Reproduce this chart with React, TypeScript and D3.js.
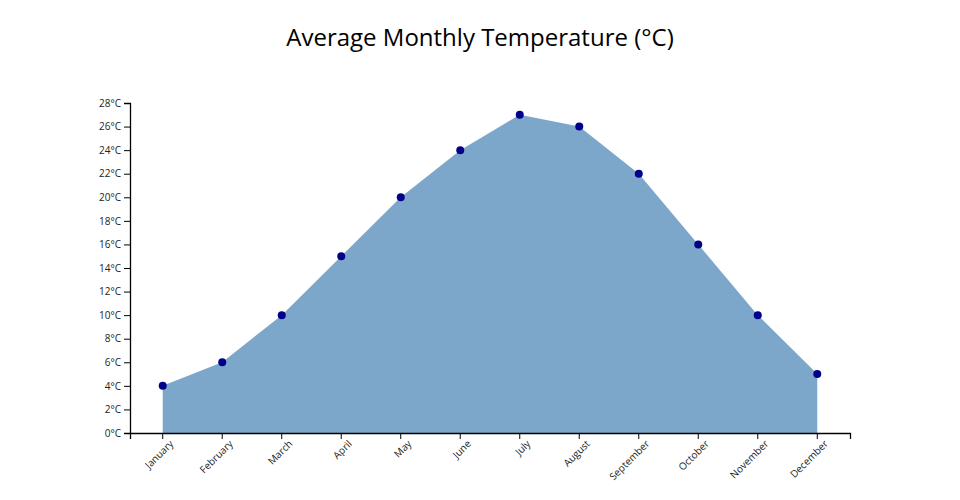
import * as d3 from "d3";
import { useEffect, useRef } from "react";

const months = [
  "January", "February", "March", "April", "May", "June",
  "July", "August", "September", "October", "November", "December",
];
const temps = [4, 6, 10, 15, 20, 24, 27, 26, 22, 16, 10, 5];
const yTicks = d3.range(0, 29, 2);

export default function App() {
  const ref = useRef<SVGSVGElement>(null);
  const width = 960;
  const height = 500;
  const marginTop = 103;
  const marginRight = 110;
  const marginBottom = 67;
  const marginLeft = 130;

  useEffect(() => {
    const svg = d3.select(ref.current);
    svg.selectAll("*").remove();

    const x = d3
      .scaleBand()
      .domain(months)
      .range([marginLeft, width - marginRight])
      .padding(0.1);
    const y = d3
      .scaleLinear()
      .domain([0, 28])
      .range([height - marginBottom, marginTop]);
    const cx = (d: string) => (x(d) ?? 0) + x.bandwidth() / 2;

    const area = d3
      .area<number>()
      .x((d, i) => cx(months[i]))
      .y0(y(0))
      .y1((d) => y(d));

    svg
      .append("path")
      .datum(temps)
      .attr("fill", "steelblue")
      .attr("opacity", 0.7)
      .attr("d", area);

    svg
      .append("g")
      .selectAll("circle")
      .data(temps)
      .join("circle")
      .attr("cx", (d, i) => cx(months[i]))
      .attr("cy", (d) => y(d))
      .attr("r", 4)
      .attr("fill", "darkblue");

    const gx = svg
      .append("g")
      .attr("transform", `translate(0,${height - marginBottom})`)
      .call(d3.axisBottom(x));
    gx.selectAll("text")
      .attr("transform", "rotate(-45)")
      .style("text-anchor", "end");

    const gy = svg
      .append("g")
      .attr("transform", `translate(${marginLeft},0)`)
      .call(
        d3
          .axisLeft(y)
          .tickValues(yTicks)
          .tickFormat((d) => `${d}°C`)
      );

    svg.selectAll(".tick text").attr("font-family", "Open Sans").attr("font-size", 10).attr("fill", "#222");
    gx.select(".domain").attr("stroke-width", 1.3);
    gy.select(".domain").attr("stroke-width", 1.3);

    svg
      .append("text")
      .attr("x", width / 2)
      .attr("y", 46)
      .attr("text-anchor", "middle")
      .attr("font-family", "Open Sans")
      .attr("font-size", 24)
      .text("Average Monthly Temperature (°C)");
  }, []);

  return (
    <svg
      ref={ref}
      width={width}
      height={height}
      style={{ position: "absolute", left: 0, top: 0, background: "white" }}
    />
  );
}
